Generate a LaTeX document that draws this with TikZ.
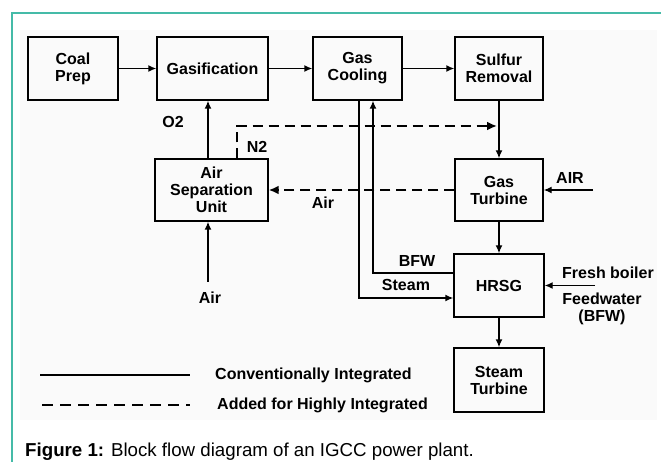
\documentclass[tikz,border=0pt]{standalone}
\usepackage{fontspec}
\setmainfont{Liberation Sans}
\usetikzlibrary{arrows.meta}
\definecolor{framecol}{HTML}{45BBA8}
\newcommand\dtext{\fontsize{16}{17}\selectfont\bfseries}
\newcommand\captext{\fontsize{18.7}{20}\selectfont}
\begin{document}
\begin{tikzpicture}[x=1pt,y=-1pt,
  blk/.style={draw, line width=1.4pt, inner sep=0pt, align=center, font=\dtext},
  lbl/.style={inner sep=0pt, align=center, font=\dtext},
  arr/.style={line width=1.4pt, -{Latex[length=8pt,width=7pt]}},
  dsh/.style={line width=2.8pt, dash pattern=on 10pt off 6pt, -{Latex[length=10pt,width=9pt]}},
  legsolid/.style={line width=1.4pt},
  legdash/.style={line width=2.2pt, dash pattern=on 11pt off 7pt}]
\useasboundingbox (0,0) rectangle (661,462);
\fill[black!2] (20,30) rectangle (657,420);
\draw[framecol, line width=1.6pt] (12,462) -- (12,13) -- (661,13);

% blocks
\node[blk, minimum width=90pt, minimum height=63pt] (coal) at (73,68.5) {Coal\\Prep};
\node[blk, minimum width=111pt, minimum height=63pt] (gasif) at (212.5,68.5) {Gasification};
\node[blk, minimum width=89pt, minimum height=63pt] (cool) at (357.5,68.5) {Gas\\Cooling};
\node[blk, minimum width=88pt, minimum height=63pt] (sulf) at (499,68.5) {Sulfur\\Removal};
\node[blk, minimum width=113pt, minimum height=62pt] (asu) at (211.5,190) {Air\\Separation\\Unit};
\node[blk, minimum width=88pt, minimum height=62pt] (gt) at (499,190) {Gas\\Turbine};
\node[blk, minimum width=90pt, minimum height=63pt] (hrsg) at (499,285.5) {HRSG};
\node[blk, minimum width=90pt, minimum height=64pt] (st) at (499,380) {Steam\\Turbine};

% helper coordinates
\coordinate (o2x) at (208,0);
\coordinate (n2x) at (237,0);
\coordinate (n2end) at (497,126);
\coordinate (stx) at (359,0);
\coordinate (sty) at (0,298);
\coordinate (bfx) at (373,0);
\coordinate (bfy) at (0,273);
\coordinate (airR) at (593,190);
\coordinate (fbR) at (595,285.5);
\coordinate (airB) at (208,282);

% main flow
\draw[arr] (coal) -- (gasif);
\draw[arr] (gasif) -- (cool);
\draw[arr] (cool) -- (sulf);
\draw[arr] (sulf) -- (gt);
\draw[arr] (gt) -- (hrsg);
\draw[arr] (hrsg) -- (st);
\draw[arr] (asu.north -| o2x) -- (gasif.south -| o2x);
\draw[arr] (airB) -- (asu.south -| o2x);
\draw[arr] (airR) -- (gt.east);
\draw[arr] (fbR) -- (hrsg.east);
\draw[arr] (cool.south -| stx) |- (hrsg.west |- sty);
\draw[arr] (hrsg.west |- bfy) -| (cool.south -| bfx);

% highly integrated
\draw[dsh] (asu.north -| n2x) |- (n2end);
\draw[dsh] (gt.west) -- (asu.east);

% labels
\node[lbl] (lo2) at (173,122) {O2};
\node[lbl] (ln2) at (257,147) {N2};
\node[lbl] (lair1) at (323,203) {Air};
\node[lbl] (lair2) at (210,298) {Air};
\node[lbl] (lair3) at (570,178) {AIR};
\node[lbl] (lbfw) at (417,261) {BFW};
\node[lbl] (lsteam) at (406,285) {Steam};
\node[lbl] (lfb) at (608,273) {Fresh boiler};
\node[lbl] (lfw) at (602,299) {Feedwater};
\node[lbl] (lbfw2) at (602,317) {(BFW)};

% legend
\coordinate (lg1a) at (40,375);
\coordinate (lg1b) at (190,375);
\coordinate (lg2a) at (42,405);
\coordinate (lg2b) at (190,405);
\draw[legsolid] (lg1a) -- (lg1b);
\draw[legdash] (lg2a) -- (lg2b);
\node[lbl, anchor=west] (lt1) at (215,375) {Conventionally Integrated};
\node[lbl, anchor=west] (lt2) at (217,405) {Added for Highly Integrated};

% caption
\node[inner sep=0pt, anchor=base west, font=\captext] (cap) at (25,456) {\textbf{Figure 1:} Block flow diagram of an IGCC power plant.};
\end{tikzpicture}
\end{document}
